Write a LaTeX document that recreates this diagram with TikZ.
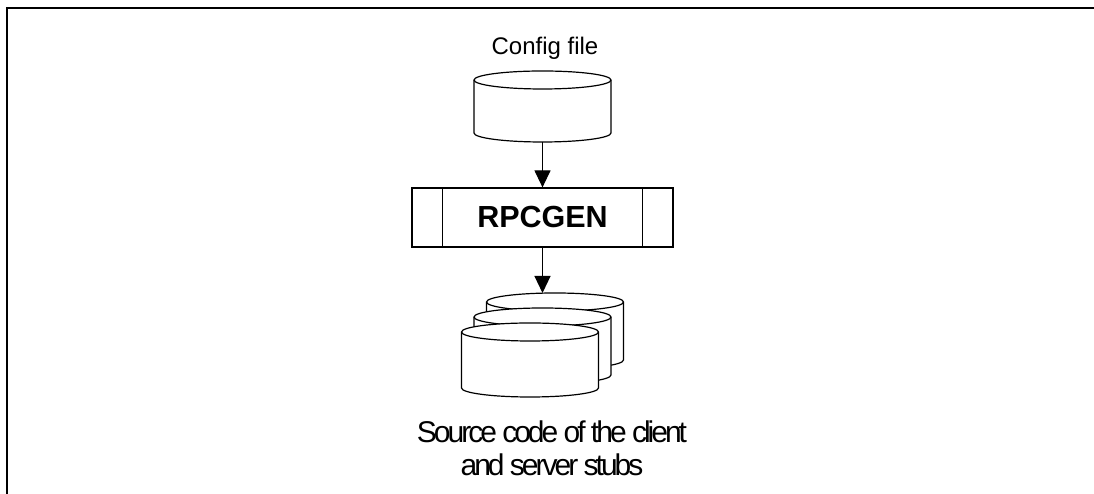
\documentclass[tikz,border=0pt]{standalone}
\usepackage{fontspec}
\setmainfont{Liberation Sans}
\newfontfamily\tightsans[LetterSpace=-10]{Liberation Sans}
\usetikzlibrary{arrows.meta}
\tikzset{
  outline/.style={line width=1.2pt},
  cylbox/.style={draw=none, rectangle, minimum width=137pt, inner sep=0pt, outer sep=0pt},
  procbox/.style={draw, outline, rectangle, minimum width=261pt, minimum height=59pt, inner sep=0pt,
     font=\fontsize{30.5}{33}\selectfont\bfseries},
  arr/.style={line width=1.2pt, -{Triangle[length=17pt,width=16pt]}},
  lbl/.style={inner sep=0pt, anchor=base},
}
\newcommand\drawcyl[4]{%
  \filldraw[outline, fill=white] (#2-68.5,#3) -- (#2-68.5,#3-#4)
     arc[start angle=180,end angle=360,x radius=68.5,y radius=9]
     -- (#2+68.5,#3)
     arc[start angle=0,end angle=180,x radius=68.5,y radius=9] -- cycle;
  \draw[outline] (#2-68.5,#3) arc[start angle=180,end angle=360,x radius=68.5,y radius=9];
  \node[cylbox, minimum height={#4+18pt}] (#1) at (#2,#3-#4/2) {};
}
\begin{document}
\begin{tikzpicture}[x=1pt,y=1pt]
\useasboundingbox (0,0) rectangle (1094,494);
\fill[white] (0,0) rectangle (1094,494);
% frame
\draw[line width=2pt] (7,0) -- (7,486.3) -- (1094,486.3);

% config file
\drawcyl{cfg}{542.5}{414}{53}
\node[lbl, font=\fontsize{24}{28}\selectfont] (cfglbl) at (545,439) {Config file};

% RPCGEN
\node[procbox] (rpc) at (542.5,276.5) {RPCGEN};
\draw[outline] ([xshift=31pt]rpc.north west) -- ([xshift=31pt]rpc.south west);
\draw[outline] ([xshift=-31pt]rpc.north east) -- ([xshift=-31pt]rpc.south east);

% stacked source files
\drawcyl{back}{555}{192}{58}
\drawcyl{mid}{542.5}{177}{58}
\drawcyl{front}{530}{162}{56}
\node[lbl, align=center, font=\tightsans\fontsize{30}{33}\selectfont] (srclbl) at (552,18)
  {Source code of the client\\and server stubs};

% connectors
\draw[arr] (cfg.south) -- (rpc.north);
\draw[arr] (rpc.south) -- (rpc.south |- back.north);
\end{tikzpicture}
\end{document}
